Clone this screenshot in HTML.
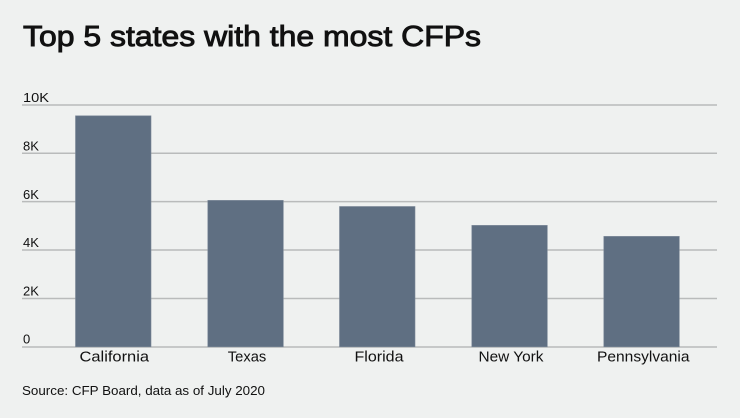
<!DOCTYPE html>
<html><head><meta charset="utf-8"><style>
html,body{margin:0;padding:0;background:#eff1f0;}
svg{display:block;}
text{font-family:"Liberation Sans",sans-serif;fill:#111;}
</style></head><body>
<svg width="740" height="418" viewBox="0 0 740 418" xmlns="http://www.w3.org/2000/svg">
<rect width="740" height="418" fill="#eff1f0"/>
<text x="23" y="46" font-size="28.5" stroke="#111" stroke-width="0.9" textLength="458" lengthAdjust="spacingAndGlyphs">Top 5 states with the most CFPs</text>
<g stroke="#b9bbbb" stroke-width="1.5">
<line x1="22" y1="105" x2="717" y2="105"/>
<line x1="22" y1="153.3" x2="717" y2="153.3"/>
<line x1="22" y1="201.6" x2="717" y2="201.6"/>
<line x1="22" y1="250" x2="717" y2="250"/>
<line x1="22" y1="298.5" x2="717" y2="298.5"/>
<line x1="22" y1="347" x2="717" y2="347"/>
</g>
<g font-size="13">
<text x="23" y="102" textLength="26" lengthAdjust="spacingAndGlyphs">10K</text>
<text x="23" y="150.5">8K</text>
<text x="23" y="198.8">6K</text>
<text x="23" y="247.2">4K</text>
<text x="23" y="295.6">2K</text>
<text x="23" y="343.5">0</text>
</g>
<g fill="#5f6f82" stroke="#7a8797" stroke-width="0.6">
<rect x="75.5" y="115.8" width="75.5" height="231"/>
<rect x="207.8" y="200.4" width="75.5" height="146.4"/>
<rect x="339.5" y="206.5" width="75.5" height="140.3"/>
<rect x="471.8" y="225.4" width="75.5" height="121.4"/>
<rect x="603.8" y="236.4" width="75.5" height="110.4"/>
</g>
<g font-size="14.5">
<text x="79.5" y="361.5" textLength="69.5" lengthAdjust="spacingAndGlyphs">California</text>
<text x="227.8" y="361.5" textLength="38.5" lengthAdjust="spacingAndGlyphs">Texas</text>
<text x="354.5" y="361.5" textLength="49" lengthAdjust="spacingAndGlyphs">Florida</text>
<text x="478.5" y="361.5" textLength="65" lengthAdjust="spacingAndGlyphs">New York</text>
<text x="597" y="361.5" textLength="92.5" lengthAdjust="spacingAndGlyphs">Pennsylvania</text>
</g>
<text x="22" y="395" font-size="12.5" textLength="243" lengthAdjust="spacingAndGlyphs">Source: CFP Board, data as of July 2020</text>
</svg>
</body></html>
